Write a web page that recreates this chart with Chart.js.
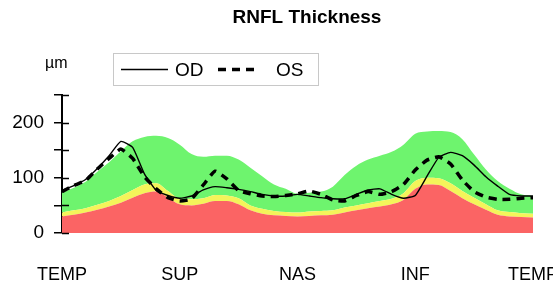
<!DOCTYPE html>
<html>
<head>
<meta charset="utf-8">
<script src="https://cdn.jsdelivr.net/npm/chart.js@4/dist/chart.umd.min.js"></script>
<style>
  html, body { margin: 0; padding: 0; background: #fff; }
  #wrap { width: 553px; height: 288px; position: relative; }
</style>
</head>
<body>
<div id="wrap"><canvas id="c"></canvas></div>
<script>
// position around the disc, in degrees (TEMP -> SUP -> NAS -> INF -> TEMP)
const angles = [0, 9, 18, 27, 36, 45, 54, 63, 72, 81, 90, 99, 108, 117, 126, 135, 144, 153, 162, 171,
  180, 189, 198, 207, 216, 225, 234, 243, 252, 261, 270, 279, 288, 297, 306, 315, 324, 333, 342, 351, 360];
const sectorTicks = [0, 90, 180, 270, 360];
const sectorLabels = ["TEMP", "SUP", "NAS", "INF", "TEMP"];

// normative bands (upper edge of each band, µm)
const redTop = [30, 33, 37, 42, 48, 55, 64, 72, 75, 64, 52, 50, 53, 58, 58, 52, 41, 35, 32, 31,
  30, 31, 32, 33, 37, 41, 45, 48, 52, 60, 80, 88, 87, 76, 63, 52, 42, 33, 30, 29, 28];
const yellowTop = [37, 41, 45, 51, 58, 67, 78, 88, 90, 76, 62, 61, 63, 69, 68, 63, 50, 44, 40, 38,
  37, 39, 40, 41, 46, 50, 54, 58, 62, 72, 94, 100, 99, 90, 76, 64, 52, 41, 38, 36, 35];
const greenTop = [73, 82, 93, 111, 128, 148, 166, 174, 176, 172, 160, 143, 138, 140, 140, 133, 118, 103, 88, 80,
  71, 73, 75, 84, 105, 122, 133, 140, 147, 160, 180, 184, 185, 183, 170, 142, 115, 94, 80, 70, 67];

// measured thickness
const odValues = [77, 86, 97, 117, 140, 166, 155, 107, 77, 68, 63, 67, 78, 84, 82, 79, 75, 70, 67, 67,
  70, 67, 64, 62, 62, 70, 78, 80, 70, 63, 68, 103, 137, 146, 140, 123, 102, 85, 70, 67, 67];
const osValues = [75, 86, 95, 116, 135, 152, 135, 102, 80, 64, 58, 62, 87, 112, 98, 77, 71, 67, 66, 68,
  71, 76, 70, 60, 58, 68, 75, 70, 75, 88, 114, 132, 138, 125, 96, 75, 65, 61, 61, 63, 64];

const yTicksShown = [0, 100, 200];

const pts = (vals) => vals.map((v, i) => ({ x: angles[i], y: v }));

const band = (vals, color, fill) => ({
  data: pts(vals), backgroundColor: color, borderWidth: 0, pointRadius: 0,
  fill, cubicInterpolationMode: "monotone", order: 2,
});

// title, unit, legend box and inner halves of the y tick marks
const overlayPlugin = {
  id: "overlay",
  afterDraw(chart) {
    const { ctx, chartArea, scales } = chart;
    const y = scales.y;
    ctx.save();
    ctx.strokeStyle = "#000";
    ctx.lineWidth = 1.5;
    for (const t of y.ticks) {
      const py = Math.round(y.getPixelForValue(t.value)) + 0.5;
      ctx.beginPath();
      ctx.moveTo(chartArea.left, py);
      ctx.lineTo(chartArea.left + 7, py);
      ctx.stroke();
    }

    ctx.fillStyle = "#000";
    ctx.font = 'bold 19px "Liberation Sans", Arial, sans-serif';
    ctx.textAlign = "center";
    ctx.textBaseline = "top";
    ctx.fillText("RNFL Thickness", 307, 8);

    ctx.font = '16px "Liberation Sans", Arial, sans-serif';
    ctx.textAlign = "left";
    ctx.fillText("µm", 45, 56);

    // legend
    ctx.strokeStyle = "#c8c8c8";
    ctx.lineWidth = 1;
    ctx.strokeRect(113.5, 53.5, 205, 32);
    const lines = chart.data.datasets.filter((d) => d.label);
    const slots = [{ x0: 121, x1: 168, tx: 175 }, { x0: 218, x1: 258, tx: 276 }];
    ctx.font = '19px "Liberation Sans Narrow", "Liberation Sans", Arial, sans-serif';
    ctx.textBaseline = "middle";
    lines.forEach((d, i) => {
      const s = slots[i];
      ctx.strokeStyle = d.borderColor;
      ctx.lineWidth = d.borderWidth;
      ctx.setLineDash(d.borderDash || []);
      ctx.beginPath();
      ctx.moveTo(s.x0, 69.5);
      ctx.lineTo(s.x1, 69.5);
      ctx.stroke();
      ctx.setLineDash([]);
      ctx.fillText(d.label, s.tx, 71);
    });
    ctx.restore();
  },
};

new Chart(document.getElementById("c"), {
  type: "line",
  data: {
    datasets: [
      {
        label: "OD", data: pts(odValues), borderColor: "#000", borderWidth: 1.4,
        pointRadius: 0, tension: 0.15, fill: false, order: 0,
      },
      {
        label: "OS", data: pts(osValues), borderColor: "#000", borderWidth: 3.5, borderDash: [8, 6],
        pointRadius: 0, tension: 0.15, fill: false, order: 1,
      },
      band(redTop, "#fb6464", "origin"),
      band(yellowTop, "#f4f45a", "-1"),
      band(greenTop, "#6ef46e", "-1"),
    ],
  },
  options: {
    responsive: true,
    maintainAspectRatio: false,
    animation: false,
    layout: { padding: { left: 0, right: 20, top: 95, bottom: 0 } },
    plugins: { legend: { display: false }, title: { display: false }, tooltip: { enabled: false } },
    scales: {
      x: {
        type: "linear", min: 0, max: 360,
        afterBuildTicks: (s) => { s.ticks = sectorTicks.map((v) => ({ value: v })); },
        afterFit: (s) => {
          s.height = 55;
          s.paddingLeft = 0; s.paddingRight = 0; s.paddingTop = 0; s.paddingBottom = 0;
        },
        ticks: {
          autoSkip: false, maxRotation: 0, padding: 31, color: "#000",
          font: { family: '"Liberation Sans", Arial, sans-serif', size: 18 },
          callback: (v, i) => sectorLabels[i],
        },
        grid: { display: false, drawTicks: false },
        border: { display: false },
      },
      y: {
        min: 0, max: 250,
        ticks: {
          stepSize: 50, padding: 10, color: "#000",
          font: { family: '"Liberation Sans", Arial, sans-serif', size: 19 },
          callback: (v) => (yTicksShown.includes(v) ? String(v) : ""),
        },
        afterFit: (s) => {
          s.width = 62;
          s.paddingLeft = 0; s.paddingRight = 0; s.paddingTop = 0; s.paddingBottom = 0;
        },
        grid: { display: true, drawOnChartArea: false, drawTicks: true, tickLength: 8, color: "#000", lineWidth: 1.5 },
        border: { display: true, color: "#000", width: 2 },
      },
    },
  },
  plugins: [overlayPlugin],
});
</script>
</body>
</html>
